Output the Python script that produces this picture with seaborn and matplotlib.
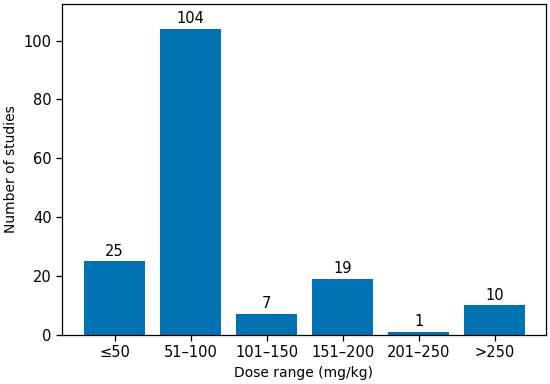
import matplotlib
matplotlib.use("Agg")
import matplotlib.pyplot as plt
import seaborn as sns
import pandas as pd

# Dose ranges and number of studies
dose_ranges = ["≤50", "51–100", "101–150", "151–200", "201–250", ">250"]
n_studies = [25, 104, 7, 19, 1, 10]

df = pd.DataFrame({"dose": dose_ranges, "count": n_studies})

sns.set_theme(style="ticks", rc={"text.color": "black", "axes.labelcolor": "black",
                                 "xtick.color": "black", "ytick.color": "black",
                                 "axes.edgecolor": "black"})
plt.rcParams["font.family"] = ["DejaVu Sans"]

fig, ax = plt.subplots(figsize=(5.5, 3.84), dpi=100)
sns.barplot(data=df, x="dose", y="count", color="#0072B2", saturation=1,
            width=0.8, edgecolor="none", linewidth=0, ax=ax)

for bar, val in zip(ax.patches, n_studies):
    ax.annotate(str(val), (bar.get_x() + bar.get_width() / 2, bar.get_height()),
                xytext=(0, 2), textcoords="offset points",
                ha="center", va="bottom", fontsize=10.5)

ax.set_xlim(-0.69, 5.67)
ax.set_ylim(0, 112.5)
ax.set_xlabel("Dose range (mg/kg)", fontsize=10)
ax.set_ylabel("Number of studies", fontsize=10)
ax.tick_params(labelsize=10.5, width=0.9, length=4)
for s in ax.spines.values():
    s.set_linewidth(0.9)

fig.subplots_adjust(left=0.113, right=0.992, top=0.99, bottom=0.128)
fig.savefig("out.png", dpi=100)
